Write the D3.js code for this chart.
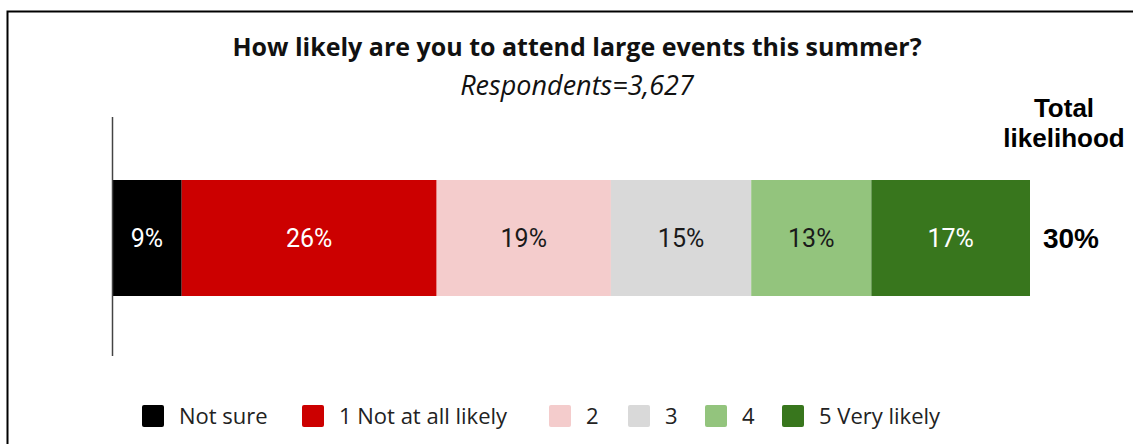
<!DOCTYPE html>
<html>
<head>
<meta charset="utf-8">
<script src="https://cdn.jsdelivr.net/npm/d3@7"></script>
<style>
  body { margin: 0; background: #fff; }
  svg { display: block; }
</style>
</head>
<body>
<svg id="chart" width="1133" height="444"></svg>
<script>
// Chart data
const categories = ['Not sure', '1 Not at all likely', '2', '3', '4', '5 Very likely']
const values = [7.6, 27.8, 19.0, 15.3, 13.1, 17.3]
const valueLabels = ['9%', '26%', '19%', '15%', '13%', '17%']
const colors = ['#000000', '#cc0000', '#f4cccc', '#d9d9d9', '#93c47d', '#38761d']
const labelColors = ['#ffffff', '#ffffff', '#1a1a1a', '#1a1a1a', '#1a1a1a', '#ffffff']
const totalTitle = ['Total', 'likelihood']
const totalValue = '30%'
const title = 'How likely are you to attend large events this summer?'
const subtitle = 'Respondents=3,627'

const svg = d3.select('#chart')

// Frame around the picture
svg.append('path')
  .attr('d', 'M7.5,444 V11.5 H1133')
  .attr('fill', 'none')
  .attr('stroke', '#000')
  .attr('stroke-width', 2)

svg.append('text')
  .attr('x', 577).attr('y', 56)
  .attr('text-anchor', 'middle')
  .style('font-family', '"Open Sans", sans-serif')
  .style('font-weight', 700)
  .style('font-size', '25px')
  .attr('fill', '#111')
  .text(title)

svg.append('text')
  .attr('x', 577).attr('y', 95)
  .attr('text-anchor', 'middle')
  .style('font-family', '"Open Sans", sans-serif')
  .style('font-style', 'italic')
  .style('font-size', '27px')
  .attr('fill', '#111')
  .text(subtitle)

// Stacked segments
const stack = []
let acc = 0
values.forEach((v, i) => {
  stack.push({ key: categories[i], x0: acc, x1: acc + v, label: valueLabels[i], i: i })
  acc += v
})

const xScale = d3.scaleLinear()
  .domain([0, d3.sum(values)])
  .range([112, 1030])

const yScale = d3.scaleBand()
  .domain(['row'])
  .range([180, 296])

const g = svg.append('g').attr('class', 'data')

g.selectAll('rect')
  .data(stack)
  .enter()
  .append('rect')
  .attr('x', (d) => xScale(d.x0))
  .attr('y', yScale('row'))
  .attr('width', (d) => xScale(d.x1) - xScale(d.x0))
  .attr('height', yScale.bandwidth())
  .attr('fill', (d) => colors[d.i])

g.selectAll('text')
  .data(stack)
  .enter()
  .append('text')
  .attr('x', (d) => (xScale(d.x0) + xScale(d.x1)) / 2)
  .attr('y', yScale('row') + yScale.bandwidth() / 2)
  .attr('dy', '0.36em')
  .attr('text-anchor', 'middle')
  .style('font-family', 'Roboto, sans-serif')
  .style('font-size', '25px')
  .attr('fill', (d) => labelColors[d.i])
  .text((d) => d.label)

// Vertical axis line
svg.append('line')
  .attr('x1', 112.5).attr('x2', 112.5)
  .attr('y1', 117).attr('y2', 356)
  .attr('stroke', '#444')
  .attr('stroke-width', 1.5)

// Total likelihood
svg.append('text')
  .attr('text-anchor', 'middle')
  .style('font-family', '"Liberation Sans", Arial, sans-serif')
  .style('font-weight', 700)
  .style('font-size', '26px')
  .attr('fill', '#000')
  .selectAll('tspan')
  .data(totalTitle)
  .enter()
  .append('tspan')
  .attr('x', 1064)
  .attr('y', (d, i) => 117 + i * 30)
  .text((d) => d)

svg.append('text')
  .attr('x', 1071)
  .attr('y', yScale('row') + yScale.bandwidth() / 2)
  .attr('dy', '0.36em')
  .attr('text-anchor', 'middle')
  .style('font-family', '"Liberation Sans", Arial, sans-serif')
  .style('font-weight', 700)
  .style('font-size', '28px')
  .attr('fill', '#000')
  .text(totalValue)

// Legend
const legendX = [142, 302, 549, 628, 705, 782]
const legend = svg.append('g').attr('class', 'legend')
  .selectAll('g')
  .data(categories)
  .enter()
  .append('g')
  .attr('transform', (d, i) => 'translate(' + legendX[i] + ',405)')

legend.append('rect')
  .attr('width', 22).attr('height', 22)
  .attr('rx', 2)
  .attr('fill', (d, i) => colors[i])

legend.append('text')
  .attr('x', 37).attr('y', 11)
  .attr('dy', '0.36em')
  .style('font-family', '"Open Sans", sans-serif')
  .style('font-size', '22px')
  .attr('fill', '#222')
  .text((d) => d)
</script>
</body>
</html>
